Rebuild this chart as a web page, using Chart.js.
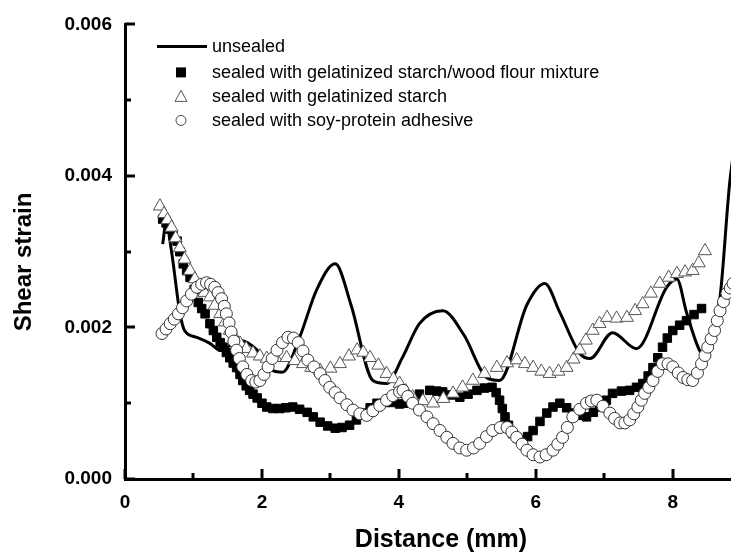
<!DOCTYPE html>
<html>
<head>
<meta charset="utf-8">
<script src="https://cdn.jsdelivr.net/npm/chart.js@4.4.1/dist/chart.umd.min.js"></script>
<style>
  html, body { margin: 0; padding: 0; background: #fff; }
  #wrap { width: 731px; height: 558px; position: relative; }
</style>
</head>
<body>
<div id="wrap"><canvas id="shearChart"></canvas></div>
<script>
// values
const unsealedX = [0.55, 0.6, 0.68, 0.8, 0.87, 1.05, 1.24, 1.39, 1.68, 1.93, 2.16, 2.3, 2.55, 2.8, 3.07, 3.3, 3.62, 3.82, 4.05, 4.3, 4.64, 4.95, 5.28, 5.47, 5.87, 6.13, 6.35, 6.64, 6.79, 7.12, 7.47, 7.91, 8.06, 8.2, 8.39, 8.44, 8.55, 8.69, 8.83, 8.95];
const unsealedY = [0.0031, 0.00338, 0.003, 0.0022, 0.00196, 0.00187, 0.00179, 0.0017, 0.00183, 0.0017, 0.00143, 0.00141, 0.00187, 0.0025, 0.00284, 0.0023, 0.0013, 0.00126, 0.0016, 0.00205, 0.00222, 0.0019, 0.00134, 0.0013, 0.0023, 0.00258, 0.0022, 0.00166, 0.00159, 0.00193, 0.00172, 0.00253, 0.00264, 0.0022, 0.0017, 0.00166, 0.0019, 0.0024, 0.0039, 0.0047];

const mixtureX = [0.55, 0.6, 0.65, 0.7, 0.76, 0.8, 0.85, 0.9, 0.95, 1.01, 1.07, 1.12, 1.17, 1.24, 1.29, 1.34, 1.39, 1.43, 1.48, 1.53, 1.58, 1.63, 1.68, 1.72, 1.77, 1.82, 1.87, 1.93, 2.0, 2.07, 2.16, 2.26, 2.35, 2.45, 2.55, 2.66, 2.75, 2.85, 2.96, 3.07, 3.17, 3.28, 3.38, 3.47, 3.58, 3.68, 3.8, 3.91, 4.01, 4.1, 4.16, 4.3, 4.45, 4.55, 4.64, 4.77, 4.89, 5.01, 5.14, 5.25, 5.36, 5.42, 5.47, 5.51, 5.55, 5.6, 5.66, 5.73, 5.81, 5.88, 5.96, 6.06, 6.16, 6.25, 6.35, 6.45, 6.54, 6.64, 6.74, 6.84, 6.93, 7.03, 7.12, 7.25, 7.37, 7.47, 7.56, 7.64, 7.71, 7.78, 7.85, 7.92, 8.0, 8.1, 8.2, 8.31, 8.42];
const mixtureY = [0.00343, 0.00338, 0.0033, 0.00322, 0.00314, 0.003, 0.00284, 0.00275, 0.00266, 0.0025, 0.00233, 0.00225, 0.00218, 0.00205, 0.00196, 0.00187, 0.0018, 0.00174, 0.00167, 0.0016, 0.00153, 0.00147, 0.00138, 0.0013, 0.00123, 0.00117, 0.00112, 0.00107, 0.001, 0.00095, 0.00093, 0.00093, 0.00094, 0.00095, 0.00092, 0.00088, 0.00082, 0.00075, 0.0007, 0.00067, 0.00068, 0.00071, 0.00078, 0.00087, 0.00094, 0.001, 0.00101, 0.00101, 0.00099, 0.001, 0.00104, 0.00112, 0.00117, 0.00116, 0.00115, 0.00111, 0.00108, 0.00112, 0.00117, 0.0012, 0.00121, 0.00114, 0.00104, 0.00093, 0.00082, 0.00071, 0.0006, 0.00054, 0.00051, 0.00056, 0.00064, 0.00076, 0.00087, 0.00095, 0.001, 0.00094, 0.00087, 0.00084, 0.00082, 0.00088, 0.00095, 0.00104, 0.00113, 0.00116, 0.00117, 0.00121, 0.00126, 0.00136, 0.00147, 0.0016, 0.00174, 0.00186, 0.00196, 0.00203, 0.00209, 0.00217, 0.00225];

const starchX = [0.51, 0.57, 0.62, 0.68, 0.74, 0.8, 0.87, 0.95, 1.02, 1.09, 1.16, 1.24, 1.31, 1.39, 1.46, 1.53, 1.6, 1.68, 1.77, 1.87, 1.97, 2.07, 2.2, 2.36, 2.48, 2.6, 2.72, 2.85, 3.0, 3.14, 3.27, 3.39, 3.48, 3.58, 3.7, 3.82, 3.92, 4.01, 4.1, 4.2, 4.35, 4.5, 4.65, 4.79, 4.93, 5.08, 5.25, 5.43, 5.58, 5.72, 5.84, 5.96, 6.08, 6.2, 6.33, 6.45, 6.55, 6.64, 6.73, 6.83, 6.93, 7.04, 7.18, 7.33, 7.45, 7.56, 7.68, 7.81, 7.94, 8.06, 8.18, 8.29, 8.38, 8.47];
const starchY = [0.0036, 0.0035, 0.00342, 0.00332, 0.00318, 0.00305, 0.0029, 0.00275, 0.00264, 0.00253, 0.00246, 0.0024, 0.00229, 0.00218, 0.00207, 0.00196, 0.00187, 0.00179, 0.00172, 0.00166, 0.00162, 0.00159, 0.0016, 0.0016, 0.00156, 0.00152, 0.00147, 0.00143, 0.00146, 0.00152, 0.00162, 0.0017, 0.00167, 0.0016, 0.0015, 0.00139, 0.00132, 0.00126, 0.00116, 0.00108, 0.00103, 0.001, 0.00106, 0.00113, 0.00121, 0.0013, 0.00139, 0.00147, 0.00153, 0.00157, 0.00152, 0.00147, 0.00142, 0.00139, 0.00142, 0.00147, 0.00158, 0.0017, 0.00183, 0.00196, 0.00205, 0.00213, 0.00212, 0.00213, 0.00222, 0.00231, 0.00245, 0.00258, 0.00266, 0.00271, 0.00273, 0.00275, 0.00285, 0.00301];

const soyX = [0.54, 0.6, 0.66, 0.72, 0.78, 0.84, 0.9, 0.97, 1.05, 1.12, 1.19, 1.25, 1.31, 1.36, 1.41, 1.45, 1.48, 1.52, 1.55, 1.59, 1.63, 1.67, 1.72, 1.78, 1.85, 1.91, 1.97, 2.03, 2.09, 2.15, 2.22, 2.3, 2.38, 2.46, 2.53, 2.6, 2.67, 2.76, 2.85, 2.92, 2.99, 3.07, 3.14, 3.24, 3.33, 3.43, 3.53, 3.62, 3.72, 3.82, 3.91, 4.01, 4.06, 4.13, 4.2, 4.3, 4.41, 4.5, 4.6, 4.7, 4.79, 4.89, 4.99, 5.09, 5.18, 5.28, 5.37, 5.48, 5.58, 5.65, 5.72, 5.8, 5.87, 5.96, 6.06, 6.15, 6.25, 6.32, 6.39, 6.46, 6.54, 6.64, 6.74, 6.81, 6.89, 6.98, 7.08, 7.15, 7.23, 7.3, 7.37, 7.43, 7.49, 7.54, 7.59, 7.65, 7.71, 7.78, 7.85, 7.93, 8.0, 8.08, 8.15, 8.22, 8.29, 8.36, 8.42, 8.47, 8.51, 8.56, 8.61, 8.65, 8.69, 8.74, 8.79, 8.84, 8.88];
const soyY = [0.00192, 0.00198, 0.00205, 0.00211, 0.00218, 0.00226, 0.00235, 0.00244, 0.00253, 0.00257, 0.00259, 0.00257, 0.00253, 0.00246, 0.00238, 0.00228, 0.00218, 0.00206, 0.00194, 0.00182, 0.0017, 0.00159, 0.00148, 0.00138, 0.0013, 0.00128, 0.0013, 0.00138, 0.00148, 0.00159, 0.0017, 0.0018, 0.00187, 0.00186, 0.0018, 0.00169, 0.00157, 0.00148, 0.00139, 0.0013, 0.00121, 0.00114, 0.00107, 0.00098, 0.00091, 0.00086, 0.00084, 0.0009, 0.00097, 0.00104, 0.0011, 0.00115, 0.00117, 0.00109, 0.001, 0.00091, 0.00082, 0.00073, 0.00064, 0.00055, 0.00047, 0.00041, 0.00038, 0.00041, 0.00047, 0.00056, 0.00064, 0.00068, 0.00068, 0.00062, 0.00055, 0.00046, 0.00038, 0.00032, 0.00029, 0.00032, 0.00038, 0.00046, 0.00055, 0.00068, 0.00082, 0.00092, 0.001, 0.00103, 0.00104, 0.00096, 0.00087, 0.0008, 0.00074, 0.00074, 0.00078, 0.00086, 0.00095, 0.00104, 0.00113, 0.00121, 0.0013, 0.00142, 0.00152, 0.00152, 0.00148, 0.0014, 0.00134, 0.00131, 0.0013, 0.0014, 0.00152, 0.00163, 0.00174, 0.00185, 0.00196, 0.00209, 0.00222, 0.00234, 0.00245, 0.00252, 0.00258];

const seriesNames = [
  'unsealed',
  'sealed with gelatinized starch/wood flour mixture',
  'sealed with gelatinized starch',
  'sealed with soy-protein adhesive'
];
const xTitle = 'Distance (mm)';
const yTitle = 'Shear strain';
const xMajorTicks = [0, 2, 4, 6, 8];
const xMinorTicks = [1, 3, 5, 7];
const yMajorTicks = [0, 0.002, 0.004, 0.006];
const yMinorTicks = [0.001, 0.003, 0.005];

const FONT = '"Liberation Sans", Arial, sans-serif';
const toPoints = (xs, ys) => xs.map((x, i) => ({ x: x, y: ys[i] }));

// ticks pointing inward + axis titles
const axisDecor = {
  id: 'axisDecor',
  afterDraw(chart) {
    const { ctx, chartArea, scales } = chart;
    ctx.save();
    ctx.strokeStyle = '#000';
    ctx.lineWidth = 3;
    const drawX = (vals, len) => vals.forEach((v) => {
      const px = Math.round(scales.x.getPixelForValue(v));
      ctx.beginPath();
      ctx.moveTo(px, chartArea.bottom);
      ctx.lineTo(px, chartArea.bottom - len);
      ctx.stroke();
    });
    const drawY = (vals, len) => vals.forEach((v) => {
      const py = Math.round(scales.y.getPixelForValue(v));
      ctx.beginPath();
      ctx.moveTo(chartArea.left, py);
      ctx.lineTo(chartArea.left + len, py);
      ctx.stroke();
    });
    drawX(xMajorTicks, 10);
    drawX(xMinorTicks, 6);
    drawY(yMajorTicks, 10);
    drawY(yMinorTicks, 6);

    ctx.fillStyle = '#000';
    ctx.font = 'bold 25px ' + FONT;
    ctx.textAlign = 'center';
    ctx.textBaseline = 'middle';
    ctx.fillText(xTitle, 441, 540);
    ctx.font = 'bold 24px ' + FONT;
    ctx.translate(24, 262);
    ctx.rotate(-Math.PI / 2);
    ctx.fillText(yTitle, 0, 0);
    ctx.restore();
  }
};

// legend in the upper left corner of the plot
const innerLegend = {
  id: 'innerLegend',
  afterDraw(chart) {
    const { ctx, chartArea } = chart;
    const left = chartArea.left + 32;
    const textX = chartArea.left + 87;
    const rows = [chartArea.top + 22, chartArea.top + 48, chartArea.top + 72, chartArea.top + 96];
    ctx.save();
    ctx.font = '18px ' + FONT;
    ctx.fillStyle = '#000';
    ctx.textBaseline = 'middle';
    ctx.textAlign = 'left';

    ctx.strokeStyle = '#000';
    ctx.lineWidth = 3;
    ctx.beginPath();
    ctx.moveTo(left, rows[0]);
    ctx.lineTo(left + 50, rows[0]);
    ctx.stroke();

    const cx = left + 24;
    ctx.fillRect(cx - 5, rows[1] - 5, 10, 10);

    ctx.lineWidth = 1;
    ctx.strokeStyle = '#555';
    ctx.beginPath();
    ctx.moveTo(cx, rows[2] - 6);
    ctx.lineTo(cx + 6, rows[2] + 5);
    ctx.lineTo(cx - 6, rows[2] + 5);
    ctx.closePath();
    ctx.stroke();

    ctx.strokeStyle = '#444';
    ctx.beginPath();
    ctx.arc(cx, rows[3], 5, 0, Math.PI * 2);
    ctx.stroke();

    seriesNames.forEach((name, i) => ctx.fillText(name, textX, rows[i] + 1));
    ctx.restore();
  }
};

const ctx = document.getElementById('shearChart');
new Chart(ctx, {
  type: 'scatter',
  data: {
    datasets: [
      {
        label: seriesNames[0],
        data: toPoints(unsealedX, unsealedY),
        showLine: true,
        borderColor: '#000',
        borderWidth: 3,
        pointRadius: 0,
        cubicInterpolationMode: 'monotone',
        order: 3,
      },
      {
        label: seriesNames[1],
        data: toPoints(mixtureX, mixtureY),
        pointStyle: 'rect',
        pointRadius: 6,
        backgroundColor: '#000',
        borderColor: '#000',
        borderWidth: 1,
        order: 2,
      },
      {
        label: seriesNames[2],
        data: toPoints(starchX, starchY),
        pointStyle: 'triangle',
        pointRadius: 7.5,
        backgroundColor: '#fff',
        borderColor: '#555',
        borderWidth: 1,
        order: 1,
      },
      {
        label: seriesNames[3],
        data: toPoints(soyX, soyY),
        pointStyle: 'circle',
        pointRadius: 6,
        backgroundColor: '#fff',
        borderColor: '#333',
        borderWidth: 1,
        order: 0,
      },
    ],
  },
  options: {
    responsive: true,
    maintainAspectRatio: false,
    animation: false,
    layout: {
      autoPadding: false,
      padding: { top: 23, right: 0, left: 0, bottom: 0 },
    },
    plugins: {
      legend: { display: false },
      tooltip: { enabled: false },
    },
    scales: {
      x: {
        type: 'linear',
        min: 0,
        max: 8.85,
        afterFit: (scale) => {
          scale.height = 79;
          scale.paddingRight = 0;
          scale.paddingLeft = 0;
        },
        grid: { display: false, drawTicks: false },
        border: { display: true, color: '#000', width: 3 },
        ticks: {
          stepSize: 2,
          includeBounds: false,
          padding: 12,
          color: '#000',
          font: { size: 19, weight: 'bold', family: FONT },
        },
      },
      y: {
        type: 'linear',
        min: 0,
        max: 0.006,
        afterFit: (scale) => { scale.width = 125; },
        grid: { display: false, drawTicks: false },
        border: { display: true, color: '#000', width: 3 },
        ticks: {
          stepSize: 0.002,
          padding: 13,
          color: '#000',
          callback: (v) => v.toFixed(3),
          font: { size: 19, weight: 'bold', family: FONT },
        },
      },
    },
  },
  plugins: [axisDecor, innerLegend],
});
</script>
</body>
</html>
